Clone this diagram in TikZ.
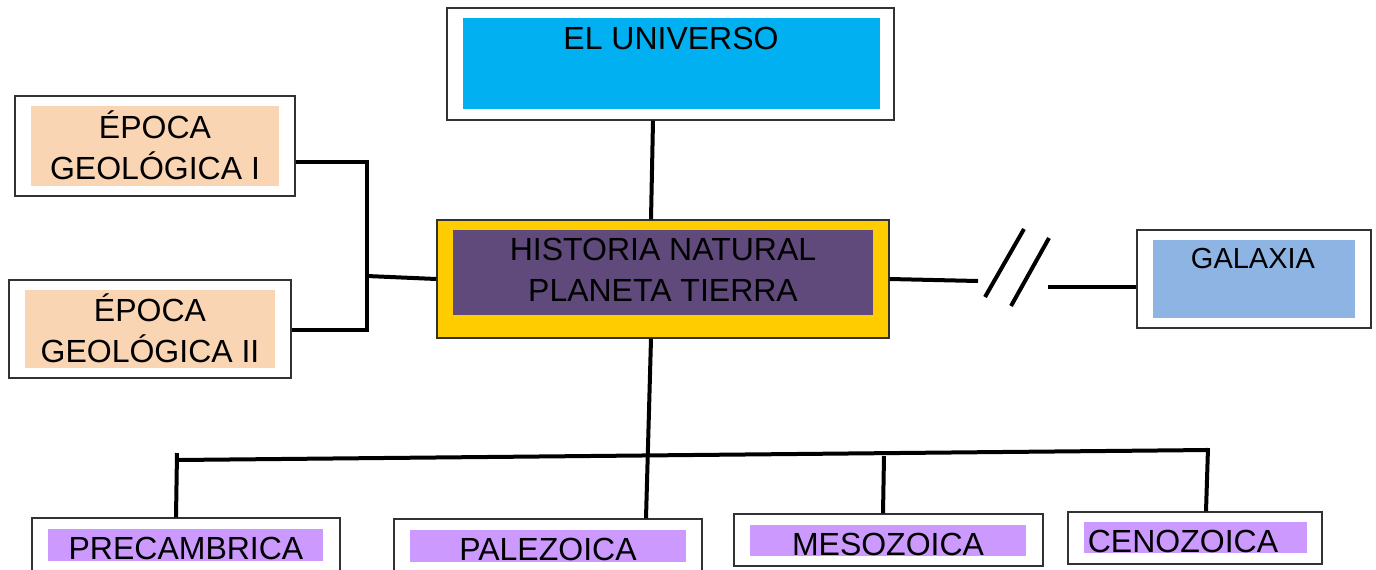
\documentclass[tikz,border=0pt]{standalone}
\usepackage{fontspec}
\setmainfont{Liberation Sans}
\usetikzlibrary{positioning, fit}
\definecolor{UniversoBlue}{RGB}{0, 176, 240}
\definecolor{EpocaPeach}{RGB}{250, 213, 180}
\definecolor{TierraYellow}{RGB}{255, 204, 0}
\definecolor{TierraPurple}{RGB}{96, 74, 123}
\definecolor{GalaxiaBlue}{RGB}{141, 180, 226}
\definecolor{EraLilac}{RGB}{204, 153, 255}
\definecolor{BoxGray}{RGB}{50, 50, 50}

\begin{document}
\begin{tikzpicture}[x=0.5pt, y=-0.5pt,
    outer/.style={draw=BoxGray, line width=0.7pt, fill=white, inner sep=0pt},
    fillbox/.style={inner sep=0pt},
    label/.style={font=\fontsize{16pt}{20.5pt}\selectfont, align=center, inner sep=0pt},
    link/.style={line width=2pt}]
  \clip (0,0) rectangle (1376,569);

  % top and centre boxes
  \node[outer, fit={(447,8) (894,120)}] (univ) {};
  \node[fillbox, fill=UniversoBlue, fit={(463,18) (880,109)}] (univ-in) {};
  \node[label] (univ-txt) at (671,38) {EL UNIVERSO};

  \node[outer, fill=TierraYellow, fit={(437,220) (889,338)}] (hist) {};
  \node[fillbox, fill=TierraPurple, fit={(453,230) (873,315)}] (hist-in) {};
  \node[label] (hist-txt) at (663,270) {HISTORIA NATURAL\\PLANETA TIERRA};

  % epochs on the left
  \node[outer, fit={(15,96) (295,196)}] (ep1) {};
  \node[fillbox, fill=EpocaPeach, fit={(31,106) (279,186)}] (ep1-in) {};
  \node[label] (ep1-txt) at (155,145) {ÉPOCA\\GEOLÓGICA I};

  \node[outer, fit={(9,280) (291,378)}] (ep2) {};
  \node[fillbox, fill=EpocaPeach, fit={(25,290) (275,368)}] (ep2-in) {};
  \node[label] (ep2-txt) at (150,328) {ÉPOCA\\GEOLÓGICA II};

  % galaxy on the right
  \node[outer, fit={(1137,230) (1371,328)}] (gal) {};
  \node[fillbox, fill=GalaxiaBlue, fit={(1153,240) (1355,318)}] (gal-in) {};
  \node[label, font=\fontsize{14.5pt}{17pt}\selectfont] (gal-txt) at (1253,259) {GALAXIA};

  % eras at the bottom
  \node[outer, fit={(32,518) (340,590)}] (pre) {};
  \node[fillbox, fill=EraLilac, fit={(48,529) (323,561)}] (pre-in) {};
  \node[label] (pre-txt) at (186,548) {PRECAMBRICA};

  \node[outer, fit={(394,519) (702,590)}] (pale) {};
  \node[fillbox, fill=EraLilac, fit={(410,530) (686,562)}] (pale-in) {};
  \node[label] (pale-txt) at (548,549) {PALEZOICA};

  \node[outer, fit={(734,514) (1043,566)}] (meso) {};
  \node[fillbox, fill=EraLilac, fit={(750,525) (1026,556)}] (meso-in) {};
  \node[label] (meso-txt) at (888,544) {MESOZOICA};

  \node[outer, fit={(1068,512) (1322,564)}] (ceno) {};
  \node[fillbox, fill=EraLilac, fit={(1084,522) (1307,553)}] (ceno-in) {};
  \node[label] (ceno-txt) at (1183,541) {CENOZOICA};

  % connectors
  \draw[link] (univ.south -| 653,0) -- (hist.north -| 651,0);

  \coordinate (jl) at (367,276);
  \draw[link] (hist.west) -- (jl);
  \draw[link] (ep1.east |- 0,162) -- (367,162) -- (367,330) -- (ep2.east |- 0,330);

  \coordinate (cutL) at (978,281);
  \coordinate (cutR) at (1048,287);
  \draw[link] (hist.east) -- (cutL);
  \draw[link] (cutR) -- (gal.west |- 0,287);
  \draw[link] (985,297) -- (1024,229);
  \draw[link] (1011,306) -- (1049,238);

  \coordinate (busW) at (177,460);
  \coordinate (busE) at (1208,450);
  \coordinate (busM) at (884,456);
  \draw[link] (hist.south -| 651,0) -- (pale.north -| 646,0);
  \draw[link] (busW) -- (busE);
  \draw[link] (177,453) -- (pre.north -| 176,0);
  \draw[link] (busM) -- (meso.north -| 883,0);
  \draw[link] (1208,448) -- (ceno.north -| 1206,0);
\end{tikzpicture}
\end{document}
